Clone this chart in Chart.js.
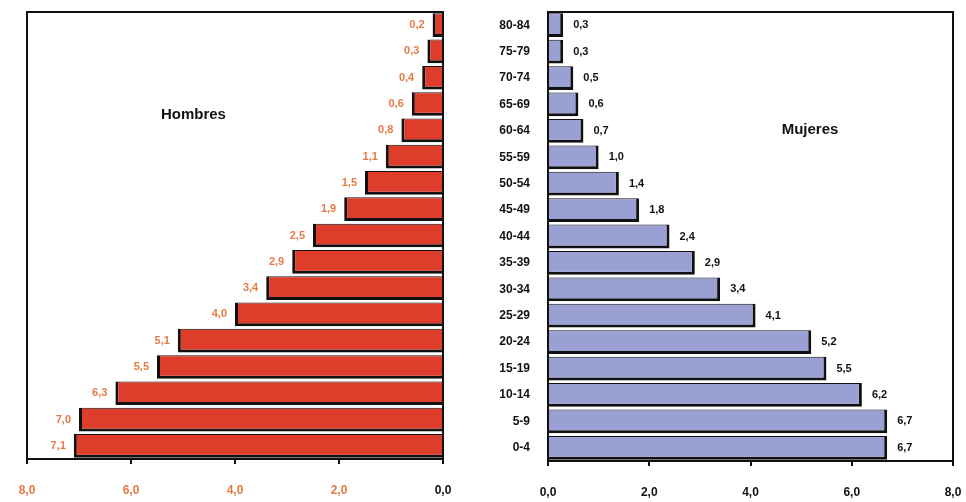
<!DOCTYPE html>
<html>
<head>
<meta charset="utf-8">
<script src="https://cdn.jsdelivr.net/npm/chart.js@4/dist/chart.umd.min.js"></script>
<style>
  body { margin: 0; background: #fff; }
  #wrap { position: relative; width: 966px; height: 502px; }
  #left { position: absolute; left: 0; top: 0; }
  #right { position: absolute; left: 460px; top: 0; }
</style>
</head>
<body>
<div id="wrap">
  <canvas id="left" width="460" height="502"></canvas>
  <canvas id="right" width="506" height="502"></canvas>
</div>
<script>
// age groups, top to bottom
const ageGroups = ["80-84", "75-79", "70-74", "65-69", "60-64", "55-59", "50-54", "45-49",
  "40-44", "35-39", "30-34", "25-29", "20-24", "15-19", "10-14", "5-9", "0-4"];
const hombres = [0.2, 0.3, 0.4, 0.6, 0.8, 1.1, 1.5, 1.9, 2.5, 2.9, 3.4, 4.0, 5.1, 5.5, 6.3, 7.0, 7.1];
const mujeres = [0.3, 0.3, 0.5, 0.6, 0.7, 1.0, 1.4, 1.8, 2.4, 2.9, 3.4, 4.1, 5.2, 5.5, 6.2, 6.7, 6.7];
const axisTicks = [0, 2, 4, 6, 8];

const RED = "#df3d2c";
const LILAC = "#9a9fd4";
const ORANGE = "#e67a45";
const FONT = '"Liberation Sans Narrow", "Liberation Sans", Arial, sans-serif';

const fmt = (v) => v.toFixed(1).replace(".", ",");

// box around the plot + value labels + panel title
const decor = {
  id: "decor",
  afterDatasetsDraw(chart, args, opts) {
    const { ctx, chartArea: a } = chart;
    ctx.save();
    ctx.strokeStyle = "#111";
    ctx.lineWidth = 2;
    ctx.strokeRect(a.left, a.top, a.right - a.left, a.bottom - a.top);

    const meta = chart.getDatasetMeta(0);
    const vals = chart.data.datasets[0].data;
    ctx.font = "bold 11px " + FONT;
    ctx.textBaseline = "middle";
    meta.data.forEach((bar, i) => {
      if (opts.side === "left") {
        ctx.fillStyle = ORANGE;
        ctx.textAlign = "right";
        ctx.fillText(fmt(vals[i]), bar.x - 8, bar.y);
      } else {
        ctx.fillStyle = "#111";
        ctx.textAlign = "left";
        ctx.fillText(fmt(vals[i]), bar.x + 10, bar.y);
      }
    });

    ctx.font = "bold 15px " + FONT;
    ctx.fillStyle = "#111";
    ctx.textAlign = "center";
    ctx.fillText(opts.title,
      a.left + (a.right - a.left) * opts.fx,
      a.top + (a.bottom - a.top) * opts.fy);
    ctx.restore();
  }
};

function xScale(reverse, tickColor, h) {
  return {
    type: "linear",
    min: 0,
    max: 8,
    reverse: reverse,
    afterBuildTicks: (s) => { s.ticks = axisTicks.map((v) => ({ value: v })); },
    afterFit: (s) => { s.height = h; s.paddingLeft = 0; s.paddingRight = 0; },
    grid: { display: true, drawOnChartArea: false, drawTicks: true, tickLength: 5, color: "#111", lineWidth: 2 },
    border: { display: true, color: "#111", width: 2 },
    ticks: {
      padding: 19,
      color: tickColor,
      font: { size: 12, weight: "bold", family: FONT },
      callback: (v) => fmt(v)
    }
  };
}

new Chart(document.getElementById("left"), {
  type: "bar",
  data: {
    labels: ageGroups,
    datasets: [{
      data: hombres,
      backgroundColor: RED,
      borderColor: "#111",
      borderWidth: { top: 1, bottom: 3, left: 3, right: 0 },
      borderSkipped: false,
      barPercentage: 0.9,
      categoryPercentage: 1
    }]
  },
  options: {
    indexAxis: "y",
    responsive: false,
    animation: false,
    layout: { padding: { left: 27, right: 17, top: 12, bottom: 0 } },
    plugins: {
      legend: { display: false },
      tooltip: { enabled: false },
      decor: { side: "left", title: "Hombres", fx: 0.4, fy: 0.23 }
    },
    scales: {
      x: xScale(true, (c) => (c.tick && c.tick.value === 0 ? "#111" : ORANGE), 43),
      y: { display: false }
    }
  },
  plugins: [decor]
});

new Chart(document.getElementById("right"), {
  type: "bar",
  data: {
    labels: ageGroups,
    datasets: [{
      data: mujeres,
      backgroundColor: LILAC,
      borderColor: "#111",
      borderWidth: { top: 1, bottom: 3, left: 0, right: 3 },
      borderSkipped: false,
      barPercentage: 0.9,
      categoryPercentage: 1
    }]
  },
  options: {
    indexAxis: "y",
    responsive: false,
    animation: false,
    layout: { padding: { left: 0, right: 13, top: 12, bottom: 0 } },
    plugins: {
      legend: { display: false },
      tooltip: { enabled: false },
      decor: { side: "right", title: "Mujeres", fx: 0.647, fy: 0.263 }
    },
    scales: {
      x: xScale(false, "#111", 41),
      y: {
        afterFit: (s) => { s.width = 88; s.paddingTop = 0; s.paddingBottom = 0; },
        grid: { display: false },
        border: { display: false },
        ticks: {
          padding: 10,
          color: "#111",
          font: { size: 12, weight: "bold", family: FONT }
        }
      }
    }
  },
  plugins: [decor]
});
</script>
</body>
</html>
